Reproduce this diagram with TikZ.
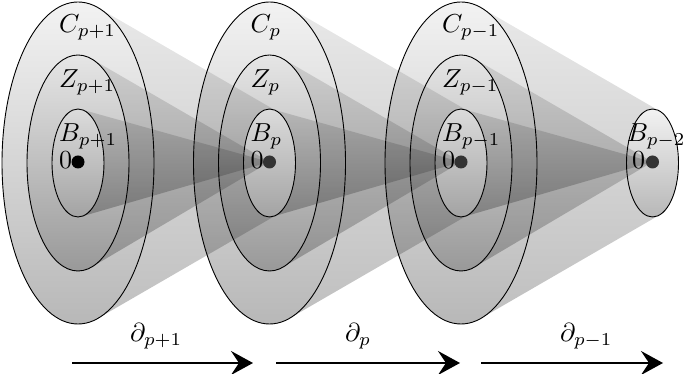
\documentclass[tikz,border=0pt]{standalone}
\usetikzlibrary{arrows.meta}
\begin{document}
\begin{tikzpicture}[x=1pt,y=1pt,
  ringC/.style={top color=black!5,bottom color=black!28},
  ringZ/.style={top color=black!10,bottom color=black!40},
  ringB/.style={top color=black!14,bottom color=black!36},
  coneshade/.style={top color=black!#1,bottom color=black,fill opacity=0.25},
  outline/.style={draw=black,line width=0.9pt},
  lbl/.style={inner sep=0pt,anchor=base west},
  dotnode/.style={circle,fill=#1,minimum size=13pt,inner sep=0pt},
  mapsto/.style={line width=1.7pt,-{Stealth[length=22pt,width=24pt,inset=8pt]}}
]
\newcommand{\mylbl}[1]{\scalebox{2.6}{$#1$}}
\useasboundingbox (0,0) rectangle (685,374);
% ellipse fills
\foreach \cx in {78,269.5,461} {
  \shade[ringC] (\cx,211) ellipse[x radius=76,y radius=161];
  \shade[ringZ] (\cx,211) ellipse[x radius=51,y radius=108];
  \shade[ringB] (\cx,211) ellipse[x radius=26,y radius=54];
}
\shade[ringC] (652.5,211) ellipse[x radius=26,y radius=54];
% cones
\foreach \cx in {78,269.5,461} {
  \begin{scope}[shift={(\cx,211)}]
    \shade[coneshade=35] (20.0,155.3) -- (198.5,52.0)
      arc[start angle=74.4,end angle=285.6,x radius=26,y radius=54]
      -- (20.0,-155.3)
      arc[start angle=-74.75,end angle=74.75,x radius=76,y radius=161] -- cycle;
    \shade[coneshade=50] (13.58,104.1) -- (191.5,1) -- (13.58,-104.1)
      arc[start angle=-74.56,end angle=74.56,x radius=51,y radius=108] -- cycle;
    \shade[coneshade=60] (3.53,53.5) -- (191.5,1) -- (3.53,-53.5)
      arc[start angle=-82.2,end angle=82.2,x radius=26,y radius=54] -- cycle;
  \end{scope}
}
% outlines
\foreach \cx in {78,269.5,461} {
  \draw[outline] (\cx,211) ellipse[x radius=76,y radius=161];
  \draw[outline] (\cx,211) ellipse[x radius=51,y radius=108];
  \draw[outline] (\cx,211) ellipse[x radius=26,y radius=54];
}
\draw[outline] (652.5,211) ellipse[x radius=26,y radius=54];
% labels group 1
\node[lbl] (C1) at (59,341) {\mylbl{C_{p+1}}};
\node[lbl] (Z1) at (59,286) {\mylbl{Z_{p+1}}};
\node[lbl] (B1) at (59,232) {\mylbl{B_{p+1}}};
\node[lbl] (O1) at (59,205) {\mylbl{0}};
\node[dotnode=black] (D1) at (78,212) {};
% group 2
\node[lbl] (C2) at (250.5,341) {\mylbl{C_{p}}};
\node[lbl] (Z2) at (250.5,286) {\mylbl{Z_{p}}};
\node[lbl] (B2) at (250.5,232) {\mylbl{B_{p}}};
\node[lbl] (O2) at (250.5,205) {\mylbl{0}};
\node[dotnode=black!80] (D2) at (269.5,212) {};
% group 3
\node[lbl] (C3) at (442,341) {\mylbl{C_{p-1}}};
\node[lbl] (Z3) at (442,286) {\mylbl{Z_{p-1}}};
\node[lbl] (B3) at (442,232) {\mylbl{B_{p-1}}};
\node[lbl] (O3) at (442,205) {\mylbl{0}};
\node[dotnode=black!80] (D3) at (461,212) {};
% group 4
\node[lbl] (B4) at (627,232) {\mylbl{B_{p-2}}};
\node[lbl] (O4) at (632,205) {\mylbl{0}};
\node[dotnode=black!80] (D4) at (652.5,212) {};
% arrows
\coordinate (a1s) at (72,11);  \coordinate (a1e) at (253,11);
\coordinate (a2s) at (276,11); \coordinate (a2e) at (460,11);
\coordinate (a3s) at (481,11); \coordinate (a3e) at (663,11);
\draw[mapsto] (a1s) -- (a1e);
\draw[mapsto] (a2s) -- (a2e);
\draw[mapsto] (a3s) -- (a3e);
\node[lbl] (d1) at (130,32) {\mylbl{\partial_{p+1}}};
\node[lbl] (d2) at (345,32) {\mylbl{\partial_{p}}};
\node[lbl] (d3) at (560,32) {\mylbl{\partial_{p-1}}};
\end{tikzpicture}
\end{document}
